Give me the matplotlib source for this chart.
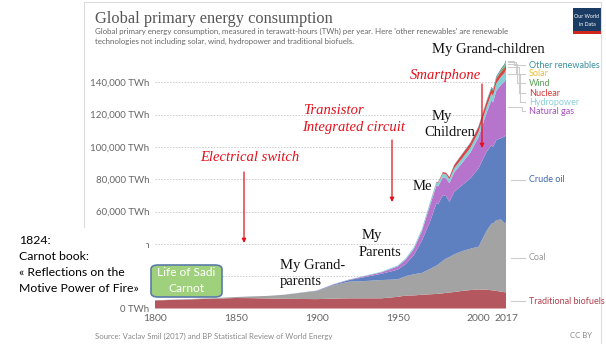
import numpy as np
import matplotlib.pyplot as plt
from matplotlib.patches import Rectangle, FancyBboxPatch
from matplotlib.lines import Line2D

W, H = 606, 344

years = [1800, 1820, 1840, 1850, 1860, 1870, 1880, 1890, 1900, 1910, 1920, 1930,
         1940, 1950, 1955, 1960, 1965, 1970, 1974, 1975, 1978, 1980, 1982, 1985,
         1990, 1995, 2000, 2005, 2008, 2009, 2011, 2014, 2016, 2017]

# TWh per year
biofuels = [5000, 5600, 6200, 6500, 6400, 6200, 6000, 5900, 5800, 6100, 6300, 6300,
            6300, 7200, 8000, 8100, 8500, 8800, 9000, 9100, 9400, 9700, 9900, 10200,
            10900, 11400, 11800, 11600, 11300, 11200, 10900, 10400, 10100, 10000]
coal = [100, 200, 400, 600, 1100, 1600, 2500, 3800, 5000, 8200, 10300, 10700,
        11300, 10800, 12000, 13100, 13500, 15700, 17500, 18100, 20100, 21300, 21900, 23300,
        24600, 25600, 26400, 36400, 41200, 41300, 43800, 44600, 42700, 43200]
crude_oil = [0, 0, 0, 0, 0, 10, 50, 100, 200, 400, 1000, 2500,
             3900, 6000, 7500, 11800, 20000, 29200, 38600, 37300, 40700, 38500, 34200, 38700,
             40900, 43500, 48500, 49000, 48500, 47500, 49500, 50500, 53500, 54100]
natural_gas = [0, 0, 0, 0, 0, 0, 0, 0, 60, 200, 250, 600,
               900, 2000, 2800, 3800, 5800, 10000, 11000, 11000, 11000, 11000, 11500, 12000,
               13800, 16000, 19300, 24000, 28000, 27500, 30500, 33000, 34000, 35000]
hydropower = [0, 0, 0, 0, 0, 0, 0, 0, 20, 80, 150, 250,
              400, 600, 800, 1100, 1400, 1800, 2000, 2100, 2300, 2400, 2500, 2600,
              2800, 3000, 3200, 3600, 4000, 4100, 4500, 5000, 5300, 5400]
nuclear = [0, 0, 0, 0, 0, 0, 0, 0, 0, 0, 0, 0,
           0, 0, 0, 0, 30, 100, 300, 500, 900, 1000, 1300, 2000,
           2600, 2900, 3100, 3300, 3200, 3200, 3100, 3000, 3050, 3100]
wind = [0, 0, 0, 0, 0, 0, 0, 0, 0, 0, 0, 0,
        0, 0, 0, 0, 0, 0, 0, 0, 0, 0, 0, 0,
        0, 10, 40, 120, 280, 340, 560, 900, 1200, 1400]
solar = [0, 0, 0, 0, 0, 0, 0, 0, 0, 0, 0, 0,
         0, 0, 0, 0, 0, 0, 0, 0, 0, 0, 0, 0,
         0, 0, 0, 4, 15, 25, 80, 230, 420, 550]
other_renewables = [0, 0, 0, 0, 0, 0, 0, 0, 0, 0, 0, 0,
                    0, 0, 0, 0, 0, 20, 40, 50, 80, 100, 120, 170,
                    250, 300, 400, 500, 600, 620, 700, 850, 950, 1000]

series = [biofuels, coal, crude_oil, natural_gas, hydropower, nuclear, wind, solar, other_renewables]
names = ['Traditional biofuels', 'Coal', 'Crude oil', 'Natural gas', 'Hydropower',
         'Nuclear', 'Wind', 'Solar', 'Other renewables']
fills = ['#b5575f', '#a3a3a3', '#5f80c0', '#b774cc', '#85d0d6',
         '#d9464a', '#5ea85a', '#edbd45', '#2f8f9d']
label_cols = ['#b0424f', '#9a9a9a', '#3f68b0', '#a64fbd', '#8ccfd8',
              '#d43a3a', '#5aa35a', '#f0c03a', '#3a8f9f']

xticks = [1800, 1850, 1900, 1950, 2000, 2017]
yticks = [0, 20000, 40000, 60000, 80000, 100000, 120000, 140000]

fig = plt.figure(figsize=(W / 100, H / 100), dpi=100)


def fp(x, y):
    return (x / W, 1 - y / H)


# chart frame
frame = dict(color='#dcdcdc', lw=0.8, transform=fig.transFigure)
fig.add_artist(Line2D([84 / W, 601 / W], [1 - 2 / H, 1 - 2 / H], **frame))
fig.add_artist(Line2D([601 / W, 601 / W], [1 - 2 / H, 0], **frame))
fig.add_artist(Line2D([84 / W, 84 / W], [1 - 2 / H, 1 - 228 / H], **frame))

ymax = 157000
px_per = 226.3 / 140000
ax = fig.add_axes([155 / W, (H - 308.5) / H, 351 / W, ymax * px_per / H])
ax.stackplot(years, *series, colors=fills, linewidth=0)
ax.set_xlim(1800, 2017)
ax.set_ylim(0, ymax)
for s in ax.spines.values():
    s.set_visible(False)
ax.set_xticks(xticks)
ax.set_xticklabels([str(t) for t in xticks], fontsize=7.5, color='#666666', family='Lato')
ax.set_yticks(yticks)
# the 20,000 label sits behind the Carnot box, so it is left blank
ylabels = ['{:,} TWh'.format(v) for v in yticks]
ylabels[0] = '0 TWh'
ylabels[1] = ''
ax.set_yticklabels(ylabels, fontsize=7, color='#666666', family='Lato')
ax.tick_params(length=0, pad=4)
ax.set_axisbelow(True)
ax.grid(axis='y', color='#cccccc', linestyle=(0, (1.5, 1.5)), lw=0.7)
ax.grid(axis='x', visible=False)

# header
fig.text(*fp(95, 19), 'Global primary energy consumption', family='Liberation Serif',
         fontsize=11.8, color='#555555', va='center')
fig.text(*fp(95, 31), "Global primary energy consumption, measured in terawatt-hours (TWh) per year. "
         "Here 'other renewables' are renewable", family='Lato', fontsize=5.7,
         color='#666666', va='center')
fig.text(*fp(95, 41), 'technologies not including solar, wind, hydropower and traditional biofuels.',
         family='Lato', fontsize=5.7, color='#666666', va='center')

fig.add_artist(Rectangle(fp(573, 34), 28 / W, 26 / H, transform=fig.transFigure,
                         facecolor='#1a3b63', edgecolor='none'))
fig.add_artist(Rectangle(fp(573, 34), 28 / W, 2.5 / H, transform=fig.transFigure,
                         facecolor='#d0261e', edgecolor='none'))
fig.text(*fp(587, 16), 'Our World', color='white', fontsize=3.8, family='Lato',
         ha='center', va='center')
fig.text(*fp(587, 24), 'in Data', color='white', fontsize=3.8, family='Lato',
         ha='center', va='center')

# footer
fig.text(*fp(95, 336), 'Source: Vaclav Smil (2017) and BP Statistical Review of World Energy',
         family='Lato', fontsize=5.6, color='#888888', va='center')
fig.text(*fp(592, 336), 'CC BY', family='Lato', fontsize=5.6, color='#888888',
         va='center', ha='right')

# series labels at the right edge
last = np.array([s[-1] for s in series])
mids = np.cumsum(last) - last / 2.0


def data_y(v):
    return 308.5 - v * px_per


big_y = {'Crude oil': 180, 'Coal': 258, 'Traditional biofuels': 301}
for i, nm in enumerate(names[:3]):
    y = big_y[nm]
    fig.add_artist(Line2D([511 / W, 525 / W], [1 - y / H, 1 - y / H], color='#cccccc',
                          lw=0.8, transform=fig.transFigure))
    fig.text(*fp(529, y), nm, color=label_cols[i], fontsize=6.5, family='Lato', va='center')

small_y = {'Other renewables': 65, 'Solar': 74, 'Wind': 83, 'Nuclear': 93,
           'Hydropower': 102, 'Natural gas': 111}
for k, nm in enumerate(names[3:]):
    i = k + 3
    y = small_y[nm]
    dy = data_y(mids[i])
    xe = 514 + (8 - i) * 1.6
    fig.add_artist(Line2D([508 / W, xe / W, xe / W, 525 / W],
                          [1 - dy / H, 1 - dy / H, 1 - y / H, 1 - y / H],
                          color='#cccccc', lw=0.8, transform=fig.transFigure))
    fig.text(*fp(529, y), nm, color=label_cols[i], fontsize=6.5, family='Lato', va='center')

# generations
serif = dict(family='Liberation Serif', fontsize=10.5, color='#111111', va='center')
fig.text(*fp(432, 50), 'My Grand-children', **serif)
fig.text(*fp(432, 117), 'My', **serif)
fig.text(*fp(424, 133), 'Children', **serif)
fig.text(*fp(413, 187), 'Me', **serif)
fig.text(*fp(362, 235), 'My', **serif)
fig.text(*fp(359, 252), 'Parents', **serif)
fig.text(*fp(280, 266), 'My Grand-', **serif)
fig.text(*fp(280, 282), 'parents', **serif)

# inventions
red = '#e3101b'
ital = dict(family='Liberation Serif', style='italic', fontsize=10.5, color=red, va='center')
fig.text(*fp(410, 75), 'Smartphone', **ital)
fig.text(*fp(303, 110), 'Transistor', **ital)
fig.text(*fp(302, 128), 'Integrated circuit', **ital)
fig.text(*fp(200, 158), 'Electrical switch', **ital)

arrow = dict(arrowstyle='-|>', color=red, lw=0.9, mutation_scale=6, shrinkA=0, shrinkB=0)
for x, y0, y1 in [(482, 84, 148), (392, 140, 202), (244, 172, 243)]:
    fig.add_artist(plt.Annotation('', xy=fp(x, y1), xytext=fp(x, y0),
                                  xycoords='figure fraction', textcoords='figure fraction',
                                  arrowprops=arrow))

# Carnot notes
fig.add_artist(Rectangle(fp(0, 300), 146 / W, 72 / H, transform=fig.transFigure,
                         facecolor='white', edgecolor='none', zorder=5))
left = dict(family='Lato', fontsize=8.8, color='black', va='center', zorder=6)
for y, t in [(240, '1824:'), (256, 'Carnot book:'), (272, '« Reflections on the'),
             (289, 'Motive Power of Fire»')]:
    fig.text(*fp(19, y), t, **left)

box = FancyBboxPatch(fp(151, 297), 71 / W, 32 / H, boxstyle='round,pad=0,rounding_size=0.012',
                     transform=fig.transFigure, facecolor='#9fd17c', edgecolor='#5a7ca8',
                     lw=1.2, zorder=5)
fig.add_artist(box)
fig.text(*fp(186.5, 272), 'Life of Sadi', color='white', fontsize=8.6, family='Lato',
         ha='center', va='center', zorder=6)
fig.text(*fp(186.5, 289), 'Carnot', color='white', fontsize=8.6, family='Lato',
         ha='center', va='center', zorder=6)

fig.savefig('out.png', dpi=100)
